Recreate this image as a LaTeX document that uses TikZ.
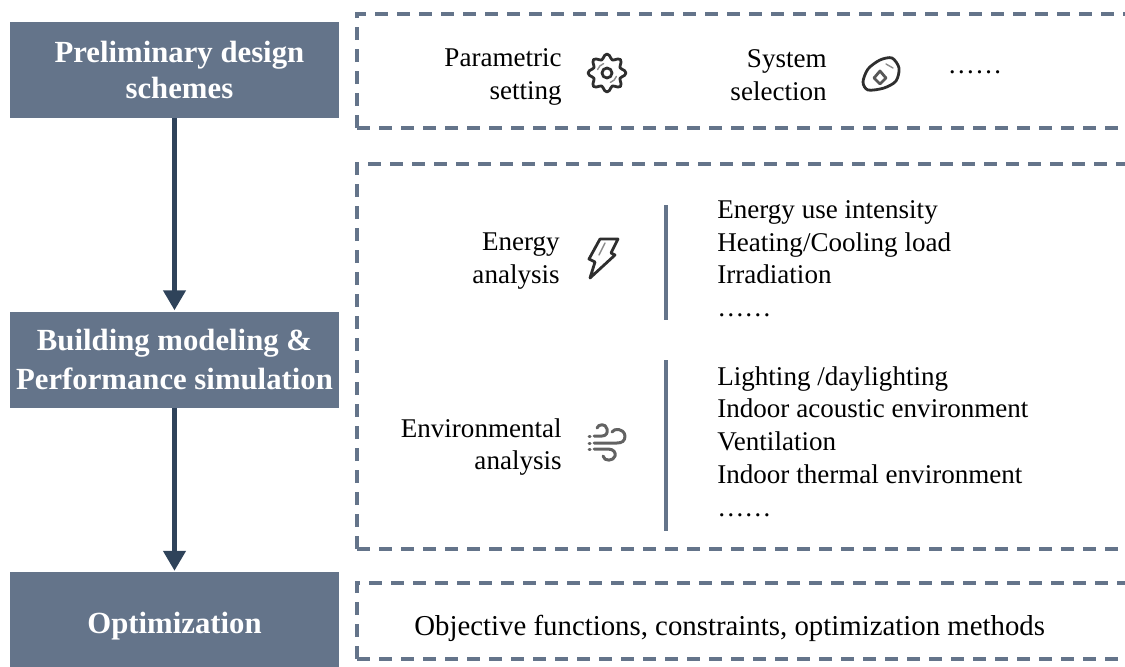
\documentclass[tikz,border=0pt]{standalone}
\usepackage{fontspec}
\setmainfont{Liberation Serif}
\usetikzlibrary{arrows.meta}
\definecolor{slatebox}{HTML}{64748A}
\definecolor{darkarrow}{HTML}{2F435A}
\definecolor{icongrey}{HTML}{2E2E2E}
\tikzset{
    stagebox/.style={fill=slatebox,text=white,minimum width=329*0.02cm,minimum height=96*0.02cm,inner sep=0pt,align=center,font=\fontsize{17.5}{21.3}\selectfont\bfseries},
    flowarrow/.style={draw=darkarrow,line width=4.5*0.02cm,-{Triangle[width=22*0.02cm,length=20*0.02cm]},shorten >=0.5pt},
    dashframe/.style={draw=slatebox,line width=3.2*0.02cm,dash pattern=on 13*0.02cm off 9*0.02cm},
    divider/.style={draw=slatebox,line width=4*0.02cm},
    sidelabel/.style={anchor=east,align=right,inner sep=0pt,font=\fontsize{15.4}{18.7}\selectfont},
    listlabel/.style={anchor=north west,align=left,inner sep=0pt,font=\fontsize{15.4}{18.7}\selectfont},
    iconline/.style={draw=icongrey,line width=2.8*0.02cm,line join=round,line cap=round},
    iconwind/.style={draw=icongrey!75,line width=3*0.02cm,line join=round,line cap=round},
    iconthin/.style={draw=icongrey!55,line width=1.4*0.02cm,line cap=round}
}
\begin{document}
\begin{tikzpicture}[x=0.02cm,y=-0.02cm]
    \useasboundingbox (0,0) rectangle (1125,666);
    %% Stages
    \node[stagebox] (prelim) at (174.5,70) {\hspace*{5.6pt}Preliminary design\\[-0.6pt]\hspace*{5.6pt}schemes};
    \node[stagebox] (model) at (174.5,359.5) {Building modeling \&\\[0.6pt]Performance simulation};
    \node[stagebox,minimum height=108*0.02cm] (optim) at (174.5,626) {Optimization};
    \draw[flowarrow] (prelim) -- (model);
    \draw[flowarrow] (model) -- (optim);
    %% Frames, open at the right
    \draw[dashframe] (357,128) -- (357,14) -- (1125,14);
    \draw[dashframe] (357,128) -- (1125,128);
    \draw[dashframe] (357,549) -- (357,164) -- (1125,164);
    \draw[dashframe] (357,549) -- (1125,549);
    \draw[dashframe] (357,659) -- (357,583) -- (1125,583);
    \draw[dashframe] (357,659) -- (1125,659);
    %% Top frame
    \node[sidelabel] (param) at (562,77) {Parametric\\setting};
    \node[sidelabel] (system) at (827,75) {System\\selection};
    \node[inner sep=0pt,font=\fontsize{15.4}{18.7}\selectfont] (moretop) at (975,72) {……};
    %% Gear icon
    \draw[iconline] plot[smooth cycle,domain=0:352.5,samples=48] ([shift={(607,73)}]\x:{16.5+2.5*cos(8*\x)});
    \draw[iconline] (607,73) circle (5);
    \draw[iconthin] (607,73) ++(20:10) arc (20:70:10);
    \draw[iconthin] (607,73) ++(200:10) arc (200:250:10);
    %% Cloud icon
    \draw[iconline] plot[smooth cycle] coordinates {(863,82) (868,69) (880,60) (892,58) (899,68) (896,81) (884,88) (868,90)};
    \draw[iconline,draw=icongrey!80] (880,71) -- (886,78) -- (880,84) -- (874,78) -- cycle;
    \draw[iconthin] (886,64) -- (893,68);
    %% Middle frame
    \node[sidelabel] (energy) at (560,261) {Energy\\analysis};
    \node[sidelabel] (environ) at (562,447) {Environmental\\analysis};
    \draw[divider] (666,205) -- (666,320);
    \draw[divider] (666,360) -- (666,531);
    \node[listlabel] (energylist) at (717,200) {Energy use intensity\\Heating/Cooling load\\Irradiation\\……};
    \node[listlabel] (environlist) at (717,366) {Lighting /daylighting\\Indoor acoustic environment\\Ventilation\\Indoor thermal environment\\……};
    %% Bolt icon
    \draw[iconline] (600,239) -- (618,239) -- (611,253) -- (615,255) -- (590,278) -- (595,262) -- (589,259) -- cycle;
    \draw[iconthin] (605,243) -- (599,255);
    %% Wind icon
    \draw[iconwind] (597,428) .. controls (598,424) and (606,423) .. (607,429) .. controls (608,433) and (606,436) .. (602,436) -- (594,436);
    \draw[iconwind] (612,432) .. controls (614,428) and (624,428) .. (625,436) .. controls (625,441) and (622,443) .. (617,443) -- (594,443);
    \draw[iconwind] (594,449) -- (608,449) .. controls (614,449) and (616,453) .. (615,456) .. controls (614,461) and (604,462) .. (603,456);
    \draw[iconwind] (589,436) -- (590,436) (589,443) -- (590,443) (589,449) -- (590,449);
    %% Bottom frame
    \node[inner sep=0pt,anchor=west,font=\fontsize{16.4}{18.7}\selectfont] (methods) at (414,628) {Objective functions, constraints, optimization methods};
\end{tikzpicture}
\end{document}
